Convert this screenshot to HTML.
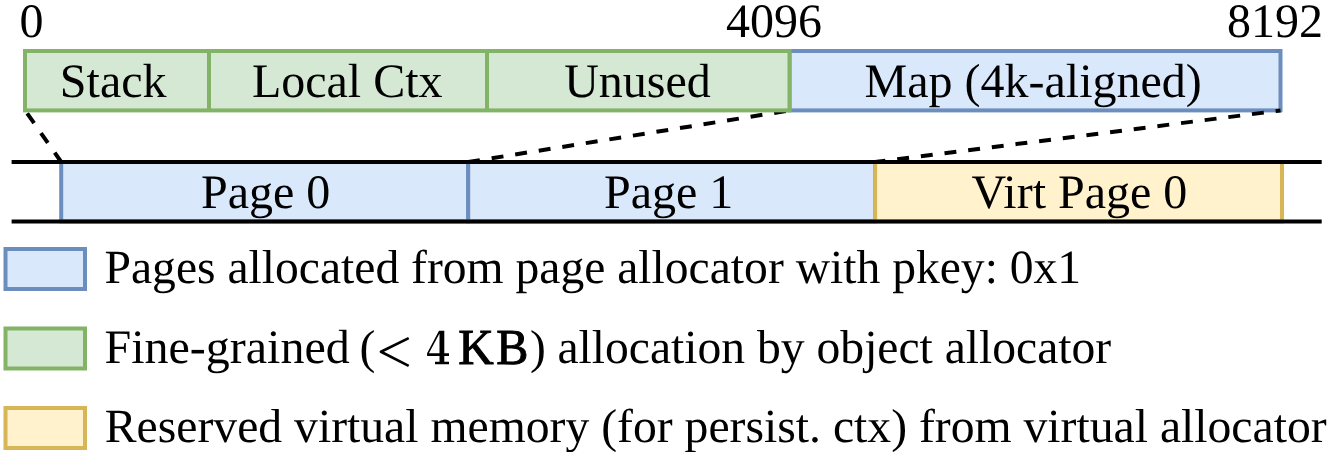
<!DOCTYPE html>
<html>
<head>
<meta charset="utf-8">
<style>
html,body{margin:0;padding:0;background:#ffffff;width:1329px;height:452px;overflow:hidden;}
svg{display:block;will-change:transform;}
text{font-family:"Liberation Serif", serif;fill:#000;text-rendering:geometricPrecision;}
</style>
</head>
<body>
<svg width="1329" height="452" viewBox="0 0 1329 452">
  <!-- top bar -->
  <rect x="789.5" y="51" width="491" height="59.4" fill="#dae8fc" stroke="#6c8ebf" stroke-width="4"/>
  <!-- lower bar -->
  <rect x="61.2" y="162" width="407" height="59.4" fill="#dae8fc" stroke="#6c8ebf" stroke-width="4"/>
  <rect x="468.2" y="162" width="406.9" height="59.4" fill="#dae8fc" stroke="#6c8ebf" stroke-width="4"/>
  <rect x="875.1" y="162" width="406.9" height="59.4" fill="#fff2cc" stroke="#d6b656" stroke-width="4"/>
  <line x1="11.6" y1="162" x2="1321.7" y2="162" stroke="#000" stroke-width="4"/>
  <line x1="11.6" y1="221.4" x2="1321.7" y2="221.4" stroke="#000" stroke-width="4"/>

  <!-- connectors + top green -->
  <line x1="1280.5" y1="110.5" x2="875.1" y2="162" stroke="#000" stroke-width="4" stroke-dasharray="11.92 11.92" stroke-dashoffset="7"/>
  <line x1="25.2" y1="110.5" x2="61.2" y2="162" stroke="#000" stroke-width="4" stroke-dasharray="12 12" stroke-dashoffset="20.5"/>
  <line x1="789.5" y1="110.5" x2="468.2" y2="162" stroke="#000" stroke-width="4" stroke-dasharray="11.92 11.92" stroke-dashoffset="20.2"/>
  <rect x="25" y="51" width="764.5" height="59.4" fill="#d5e8d4" stroke="#82b366" stroke-width="4"/>
  <line x1="209" y1="51" x2="209" y2="110.4" stroke="#82b366" stroke-width="4"/>
  <line x1="487" y1="51" x2="487" y2="110.4" stroke="#82b366" stroke-width="4"/>

  <!-- labels -->
  <g font-size="48">
    <text x="19.5" y="37.3">0</text>
    <text x="726" y="37.3">4096</text>
    <text x="1227.1" y="37.3">8192</text>
    <text x="59.85" y="96.8">Stack</text>
    <text x="251.95" y="96.8">Local Ctx</text>
    <text x="564.2" y="96.8">Unused</text>
    <text x="864.6" y="96.8">Map (4k-aligned)</text>
    <text x="201" y="208">Page 0</text>
    <text x="604" y="208">Page 1</text>
    <text x="971.55" y="208">Virt Page 0</text>
  </g>

  <!-- legend -->
  <rect x="5.5" y="249" width="79.5" height="40" fill="#dae8fc" stroke="#6c8ebf" stroke-width="4"/>
  <rect x="5.5" y="328.5" width="79.5" height="40" fill="#d5e8d4" stroke="#82b366" stroke-width="4"/>
  <rect x="5.5" y="408" width="79.5" height="40" fill="#fff2cc" stroke="#d6b656" stroke-width="4"/>

  <text x="104.5" y="283" font-size="47.6">Pages allocated from page allocator with pkey: 0x1</text>
  <text x="104.5" y="362.5" font-size="48">Fine-grained</text>
  <text x="359.5" y="362.5" font-size="47.6">(</text>
  <path d="M408.7 338.1 L381 351.8 L408.7 365.9" fill="none" stroke="#000" stroke-width="2.7" stroke-linejoin="round"/>
  <path d="M439 330.7 L444.3 330.7 L444.3 353.2 L449 353.2 L449 356 L444.3 356 L444.3 361.8 L449 361.8 L449 364.2 L435 364.2 L435 361.8 L439.5 361.8 L439.5 356 L427.1 356 L427.1 353.2 Z M439.5 333.4 L439.5 353.2 L428.9 353.2 Z" fill="#000" fill-rule="evenodd"/>
  <text x="458.2" y="363.8" font-size="50.4" stroke="#000" stroke-width="1" transform="translate(458.2 0) scale(0.975 1) translate(-458.2 0)">K</text>
  <text x="496.3" y="363.8" font-size="50.4" stroke="#000" stroke-width="1" transform="translate(496.3 0) scale(0.955 1) translate(-496.3 0)">B</text>
  <text x="530" y="362.5" font-size="47.6">)</text>
  <text x="557.5" y="362.5" font-size="47.6">allocation by object allocator</text>
  <text x="104.8" y="442" font-size="47.68">Reserved virtual memory (for persist. ctx) from virtual allocator</text>
</svg>
</body>
</html>
